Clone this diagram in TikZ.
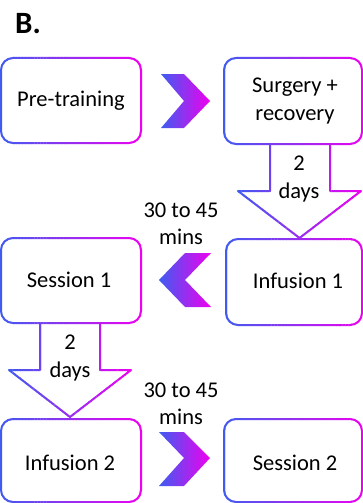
\documentclass[tikz,border=0pt]{standalone}
\usepackage{fontspec}
\setmainfont{Carlito}
\definecolor{blu}{RGB}{62,92,240}
\definecolor{mag}{RGB}{240,0,240}
\tikzset{
  lbl/.style={font=\fontsize{22.5}{27.5}\selectfont, align=center, inner sep=0pt},
  chev/.style={left color=blu, right color=mag, draw=none}
}
% gradient stroke: #1 xmin, #2 xmax, #3 ymin, #4 ymax, #5 path
\newcommand\gradstroke[5]{%
  \foreach \i in {0,...,47}{%
    \pgfmathsetmacro\xa{#1+(#2-#1)*\i/48}%
    \pgfmathsetmacro\xb{#1+(#2-#1)*(\i+1)/48+0.4}%
    \pgfmathsetmacro\pp{100*(\i+0.5)/48}%
    \begin{scope}
      \clip (\xa,#3) rectangle (\xb,#4);
      \draw[line width=2pt, draw=mag!\pp!blu, line join=round] #5;
    \end{scope}}}
\begin{document}
\begin{tikzpicture}[x=1pt,y=-1pt]
\useasboundingbox (0,0) rectangle (363,503);
% frames
\gradstroke{-2}{143}{50}{150}{[rounded corners=12pt] (1,58) rectangle (141,143)}
\gradstroke{222}{366}{50}{150}{[rounded corners=12pt] (224,58) rectangle (362,144)}
\gradstroke{-2}{143}{230}{330}{[rounded corners=12pt] (1,238) rectangle (141,323)}
\gradstroke{224}{366}{230}{330}{[rounded corners=12pt] (226,239) rectangle (362,325)}
\gradstroke{-2}{143}{410}{510}{[rounded corners=12pt] (1,419) rectangle (141,502)}
\gradstroke{222}{366}{410}{510}{[rounded corners=12pt] (224,419) rectangle (362,502)}
% down arrows
\gradstroke{236}{363}{143}{241}{(270,144) -- (270,191) -- (238,191) -- (299.5,238) -- (361,191) -- (330,191) -- (330,144)}
\gradstroke{7}{133}{322}{420}{(40,323) -- (40,370) -- (9,370) -- (70,417) -- (131,370) -- (100,370) -- (100,323)}
% chevrons
\shade[chev] (161,74) -- (184,74) -- (210,101) -- (184,128) -- (161,128) -- (184,101) -- cycle;
\shade[chev] (211,253) -- (185,253) -- (159,280) -- (185,307) -- (211,307) -- (185,280) -- cycle;
\shade[chev] (159,432) -- (184,432) -- (210,458) -- (184,486) -- (159,486) -- (184,458) -- cycle;
% texts
\node[font=\fontsize{31}{34}\selectfont\bfseries, inner sep=0pt, anchor=base west] (title) at (15,33.5) {B.};
\node[lbl] (pre) at (71,101) {Pre-training};
\node[lbl] (surg) at (295,101) {Surgery +\\recovery};
\node[lbl] (ses1) at (69,280) {Session 1};
\node[lbl] (inf1) at (298,281) {Infusion 1};
\node[lbl] (inf2) at (70,463) {Infusion 2};
\node[lbl] (ses2) at (295,463) {Session 2};
\node[lbl] (d1) at (299,179) {2\\days};
\node[lbl] (d2) at (70,358) {2\\days};
\node[lbl] (t1) at (181,224) {30 to 45\\mins};
\node[lbl] (t2) at (181,404) {30 to 45\\mins};
\end{tikzpicture}
\end{document}
